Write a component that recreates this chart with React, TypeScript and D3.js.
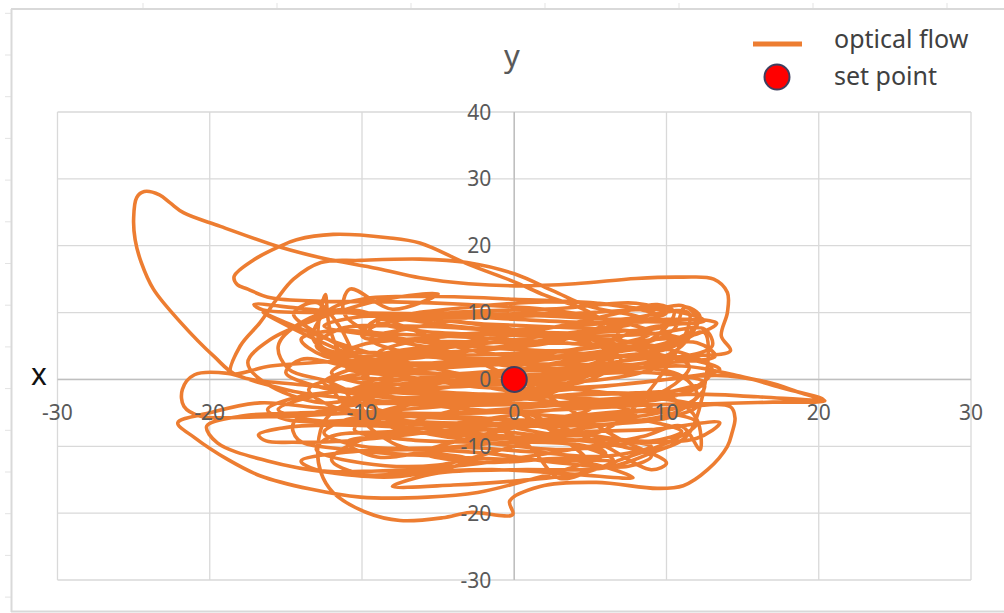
import React from "react";
import * as d3 from "d3";

type P = [number, number];

// axis ticks
const xTicks = [-30, -20, -10, 0, 10, 20, 30];
const yTicks = [-30, -20, -10, 0, 10, 20, 30, 40];

// set point
const setPoint: P = [0, 0];

// optical flow trajectory in segments (x, y)
const segTopSpike: P[] = [
  [0.5, -0.5], [4, 1.5], [8, 3], [11.5, 3.5], [14.2, 4.3], [13.6, 6.5], [14, 10], [14, 13], [13.1, 15],
  [11, 15.3], [8, 15.1], [4, 14.3], [0, 14], [-3, 14.3], [-6.2, 15.2], [-9, 16.6], [-12.7, 18.2],
  [-15.4, 19.8], [-19.3, 22.9], [-21.7, 24.9], [-22.6, 26.4], [-23.3, 27.6], [-24.3, 28.1], [-24.8, 27.2],
  [-25, 24], [-24.9, 20.9], [-24.5, 17.5], [-23.7, 13.5], [-21.9, 8.5], [-19.7, 3.4], [-18.2, 0.6],
  [-14, -0.8], [-9, -1.8], [-4, -2.4], [1, -2], [6, -1],
];
const segRightSpike: P[] = [
  [10, 0], [13.3, 0.6], [16.6, -0.4], [18.8, -2], [20.4, -3.2], [17, -3.4], [13.5, -3.6], [9, -3.8],
  [4, -4.4], [-2, -5], [-8, -5], [-13, -4.2], [-16.7, -3.5], [-20, -5], [-22.1, -6.5], [-21, -8.7],
  [-18.8, -12], [-16.7, -14.4], [-13.4, -16.4], [-10.1, -17.6], [-5.7, -17.6], [-2.4, -16.9], [1, -15],
  [4, -13], [6, -11],
];
const segBottom: P[] = [
  [3, -9.3], [-2, -8.2], [-7, -7.2], [-12, -6.8], [-15.3, -7.3], [-16.8, -8.3], [-16.3, -9.2],
  [-14.5, -9.4], [-11, -9.2], [-6, -8], [0, -6.5], [5, -5.2], [10, -4.4], [14.2, -4.1], [14.5, -5.8],
  [14.3, -8], [14, -10], [12.7, -13.5], [11.1, -15.9], [9.4, -16.3], [5.4, -15.4], [1.7, -16],
  [-0.3, -18.2], [-0.1, -20.2], [-2.9, -19.9], [-4.7, -20.7], [-7.5, -21.1], [-9.7, -19.9],
  [-11.9, -16.9], [-12.7, -13.9], [-12.9, -10], [-12.4, -6], [-10.5, -3], [-6, -1], [-1, 1], [4, 3],
];
const segBumps: P[] = [
  [8, 5], [10.5, 7.5], [11.2, 10.8], [12.2, 9.4], [11, 6], [7, 4.2], [2, 3.3], [-4, 3.2], [-9, 4],
  [-12.7, 5], [-12.4, 12.7], [-12.1, 7.5], [-11, 3], [-7, 1], [0, 0.5], [6, 1.2], [11, 2], [14.8, 0.5],
  [17.5, -1.2], [20.3, -3], [16, -2.6], [12, -2.2], [7, -2.8], [2, -3.6], [-4, -3.8], [-10, -3],
  [-14, -2], [-17, -0.3], [-18.8, 0.9], [-21, 0.7], [-21.8, -1.5], [-21.7, -4], [-20.6, -5.5],
  [-17, -5.6], [-13, -5.3], [-8, -4.6], [-3, -3.6],
];
const segUpperLeft: P[] = [
  [2, -1.5], [6, 2], [7, 6], [5, 10], [2, 12.6], [0, 14.6], [-3, 17.2], [-6.2, 20.4], [-8.3, 21.2],
  [-11.9, 21.7], [-14.3, 20.9], [-15.4, 19.9], [-17.1, 17.9], [-18.4, 15.4], [-18.2, 14.2],
  [-17.5, 13.5], [-16, 12.2], [-12.7, 11.7], [-8, 11.6], [-3, 11.2], [2, 10.5], [6, 9], [9, 7],
];
const segLeftArch: P[] = [
  [6, 5], [1, 4], [-5, 3.5], [-11, 2.8], [-16, 2], [-18.6, 1], [-18, 5], [-16.7, 8.5], [-15.6, 12],
  [-14.5, 15], [-12.7, 17.5], [-10.1, 17.8], [-6.2, 18], [-3.1, 17.5], [0, 15.8], [2.6, 13.2],
  [4.8, 11], [8, 9.5], [10, 8],
];
const segMidUpper: P[] = [
  [7, 7.2], [2, 7], [-4, 8], [-9, 9.5], [-14, 10.6], [-17.1, 11.2], [-16.5, 10.4], [-12, 10],
  [-6, 9.8], [0, 9], [5, 8.5], [9.5, 8.6], [12, 8],
];
const segCore1: P[] = [
  [10, 5.5], [6, 4], [0, 2.5], [-6, 1.5], [-11, 0.5], [-13.5, -1.5], [-12, -4], [-7, -5.5], [-1, -6],
  [5, -6], [9.5, -5], [12, -2.5], [11, 0.5], [7, 2], [1, 2.3], [-5, 2], [-10, 2.5], [-13, 5],
  [-11.5, 7.5], [-7, 8], [-1, 7.3], [4, 6.5], [9, 6.8], [12.5, 7.5], [13, 5], [10, 3], [4, 1.3],
  [-2, 0.2], [-8, -0.8], [-13, -2.4], [-15.5, -4.5], [-13.5, -6], [-8, -6.5], [-2, -7.5], [3, -8.8],
  [7, -10], [9, -11.5], [7.5, -13], [3, -12.5], [-2, -11], [-7, -10.5], [-11.5, -11], [-14, -12.2],
  [-13, -13.5], [-9, -13.7], [-4, -13], [1, -11.5], [5, -10], [8.5, -8.5], [11, -7],
];
const segCore2: P[] = [
  [12.2, -10.5], [12, -6], [10.5, -3], [6, -2], [0, -3], [-6, -3.5], [-11, -4], [-14.5, -6.5],
  [-14.2, -9], [-11, -10.5], [-5, -11.5], [0, -12], [4.5, -12.3], [7.8, -14.7], [4, -14.2],
  [-1, -13.5], [-6, -13.8], [-10, -14.2], [-12, -12], [-10, -9], [-5, -7], [1, -5], [6, -3.5],
  [10, -1.5], [11.5, 2], [9, 4], [3, 5.5], [-3, 6.3], [-8, 6.8], [-12, 7.3], [-14, 6], [-12.5, 3.5],
  [-8, 2.5], [-3, 2.6], [3, 3.5], [8, 4.5], [12, 5.5], [13.2, 3.5], [10, 2.5], [5, 2], [-1, 1],
  [-7, 0], [-12, -0.5],
];
const segLowerArc: P[] = [
  [-8, -9.5], [-3, -12], [-7.5, -14.5], [-11.9, -14], [-16.2, -12.2], [-19.5, -9.5], [-20.2, -7],
  [-18, -5.5], [-14, -5], [-9, -4.5], [-12, -0.5],
];
const segCore3: P[] = [
  [-14.8, 1.5], [-15.5, 5], [-14, 8.5], [-11, 10.5], [-7.3, 8], [-4, 5], [0, 3.5], [5, 4], [9, 6],
  [10.5, 10], [9.4, 11.2], [7, 10], [3, 8], [-2, 6], [-7, 4.5], [-11, 3.5], [-13.2, 6], [-12.4, 10],
  [-10, 12], [-5, 12.4], [0, 12], [5, 11.5], [9, 10.5], [11.1, 11], [12, 9], [11, 5], [8, 2], [3, 0],
  [-3, -1], [-9, -1.5], [-14, -2.5], [-16.2, -4.5], [-15, -6], [-10, -6], [-4, -5], [2, -4], [8, -3],
  [12.5, -1],
];
const segCore4: P[] = [
  [11, -4.5], [7, -6.5], [2, -7], [-3, -6.8], [-8, -7.8], [-12, -8.5], [-13, -10.5], [-10, -12.5],
  [-5, -12.8], [0, -10], [4, -8], [9, -7.5], [13.5, -6.5], [12, -8.8], [8, -9.5], [3, -10.5],
  [-2, -9.5], [-7, -9], [-10.5, -7.5], [-9, -5], [-4, -3], [2, -2.5], [8, -2], [12, -1], [13, 1.5],
  [11, 4], [6, 5.2], [0, 5.5], [-6, 5.8], [-10, 6.5], [-9, 9], [-4, 9.8], [2, 9.5], [7, 9], [11.5, 9.8],
];
const segDense1: P[] = [
  [6, -7.5], [-3, -6], [-9, -4.5], [-11, -2], [-6, 0.3], [2, 1.4], [8, 2.2], [10.5, 4], [7, 5.8],
  [0, 6.6], [-6, 7.2], [-9, 8.6], [-4, 10], [3, 10.6], [8, 11.4], [10, 10], [6, 7.8], [1, 6.2],
  [-5, 4.6], [-10, 3.2], [-12, 1], [-8, -1.3], [-2, -2.2], [5, -2.9], [9, -4], [6, -5.6], [0, -5],
  [-5, -4], [-9.5, -3], [-7, -1.2], [-1, 0.8], [4, 2.8], [9, 4.2], [11, 6], [8, 7.2], [3, 7.8],
  [-2, 8.3], [-7, 9], [-9.5, 7.5], [-6, 5.6], [0, 4.6], [6, 3.6], [10, 2.6], [8, 0.8], [3, -0.6],
  [-3, -0.9], [-9, -2.4], [-11.5, -4.5], [-8, -6], [-2, -6.6], [4, -6.2], [8, -5],
];
const segDense2: P[] = [
  [4, -3], [-1, -1.5], [-6, 1], [-9, 3.8], [-6, 6], [-1, 7], [4, 6], [7, 3], [5, 0], [0, -2.2],
  [-4, -4.6], [-7, -7], [-3, -9], [2, -8.2], [6, -6.8], [10, -5.8], [12, -4], [8, -2.5], [2, -1],
  [-3, 0.4], [-8, 1.6], [-12, 3], [-10, 5.2], [-5, 6.3], [1, 7.6], [6, 8.4], [9.5, 9.5], [7, 11],
  [2, 11.6], [-3, 10.8], [-7, 9.6], [-3, 8.4], [3, 6.5], [7, 5], [4, 3.7], [-1, 3], [-6, 2.3],
  [-10, 0.2], [-7, -1.8], [-1, -3.4], [5, -3.7], [10, -2.8], [12.5, -0.5], [9, 1], [4, 0.6],
  [-1, -0.3], [-6, -0.5],
];
const segDense3: P[] = [
  [-10, -4], [-8, -7.2], [-3, -8.4], [2, -9.2], [6, -9], [9, -10], [6, -11.5], [1, -10.8],
  [-4, -10.2], [-9, -11.6], [-11, -9.4], [-7, -8.2], [-1, -7.4], [4, -6.5], [8, -6], [11, -7.8],
  [9, -9.2], [4, -8], [-1, -6], [-6, -5.4], [-11, -6], [-12.5, -8], [-10, -10], [-5, -10.2],
  [0, -9.4], [4, -9.8], [6.5, -12], [3, -11.8], [-2, -12.4], [-6, -11], [-3, -8.8], [2, -6.2],
  [5, -4.4], [2, -3.2], [-3, -2.5], [-8, -2.6], [-10, -1],
];
const segDense4: P[] = [
  [-5, 1.8], [0, 3.2], [5, 5], [9, 7.8], [12.5, 8.8], [10, 10.4], [5, 10], [0, 9.4], [-5, 9.2],
  [-10, 9.4], [-12.5, 8], [-9, 6.5], [-3, 5], [3, 4.3], [8, 5.7], [12, 6.8], [13.3, 8.4], [10, 9],
  [5, 7], [0, 5.2], [-5, 3.6], [-10, 2], [-12.5, -0.5], [-9, -2], [-3, -0.8], [3, 1], [7, 3.4],
  [11.5, 3], [13.5, 1.5], [10, 0], [4, -1.2], [-2, -1.2], [-7, 0.4], [-11, 1.6], [-8, 3.5],
  [-2, 4.4], [3, 5.8], [6, 8.6], [3, 9.8], [-2, 9.5], [-6, 8], [-9.5, 6], [-7, 4], [-1, 2.2],
  [4, 0.4], [0, -0.4],
];
const segDiagUpperLeft: P[] = [
  [-6, 2], [-11, 5], [-15, 8.5], [-16.5, 10], [-14, 7], [-10, 3], [-7, 0.5], [-11, 4.5], [-14.5, 9.8],
  [-13, 11.5], [-11.5, 8], [-10.5, 3.5], [-9.5, -1], [-12, -3.5], [-16, -1], [-17.5, 2.5], [-16, 6],
  [-13, 9], [-8.5, 12], [-5, 12.8], [-8, 10.5], [-10.8, 13.5], [-11.2, 10], [-9, 6.5], [-4, 4],
];
const segDiagLowerRight: P[] = [
  [1, -1], [4, -5], [7, -9], [10, -12.5], [9, -13.5], [6, -10], [3, -7], [0, -4.5], [3, -8.5],
  [5, -13], [3, -14.8], [1, -10], [-1, -7], [4, -6], [9, -4.8], [12, -6.5], [10.5, -9], [7, -12],
  [4.5, -14], [0, -15.2], [-4, -15.8], [-8, -16], [-5, -14], [0, -13.5], [6, -13.2], [9, -11],
  [11.5, -8],
];
const segEnd: P[] = [
  [12.5, 7], [10, 4.5], [5, 3], [0, 1.5], [-5, 0.8], [-10, 1.5], [-14, 3], [-15, 1], [-13, -1],
  [-8, -2.8], [-2, -3], [3, -1.5], [1, 0],
];

const opticalFlow: P[] = [
  ...segTopSpike, ...segRightSpike, ...segBottom, ...segBumps, ...segUpperLeft, ...segLeftArch,
  ...segMidUpper, ...segCore1, ...segCore2, ...segLowerArc, ...segCore3, ...segCore4,
  ...segDense1, ...segDense2, ...segDense3, ...segDense4, ...segDiagUpperLeft,
  ...segDiagLowerRight, ...segEnd,
];

const W = 1004;
const H = 613;
const FONT = "'Noto Sans', 'Open Sans', sans-serif";
const ORANGE = "#ED7D31";

export default function App() {
  const x = d3.scaleLinear().domain([-30, 30]).range([57.5, 971]);
  const y = d3.scaleLinear().domain([-30, 40]).range([580, 112]);
  const line = d3
    .line<P>()
    .x((d) => x(d[0]))
    .y((d) => y(d[1]))
    .curve(d3.curveCatmullRom.alpha(0.5));

  const topMarks = [143, 277, 411, 545, 679, 813, 947];
  const leftMarks = d3.range(0, 15).map((i) => 13.3 + i * 41.7);

  return (
    <svg
      width={W}
      height={H}
      style={{ position: "absolute", left: 0, top: 0, background: "#fff" }}
      fontFamily={FONT}
    >
      <rect x={0} y={0} width={W} height={H} fill="#fff" />
      {/* sheet frame */}
      {topMarks.map((m) => (
        <line key={"t" + m} x1={m} x2={m} y1={3} y2={9} stroke="#e3e3e3" strokeWidth={1} />
      ))}
      {leftMarks.map((m, i) => (
        <line key={"l" + i} x1={5} x2={11} y1={m} y2={m} stroke="#e3e3e3" strokeWidth={1} />
      ))}
      <line x1={11} x2={W} y1={9} y2={9} stroke="#d9d9d9" strokeWidth={2} />
      <line x1={11.5} x2={11.5} y1={9} y2={612} stroke="#d9d9d9" strokeWidth={2} />
      <line x1={11} x2={W} y1={611.5} y2={611.5} stroke="#d9d9d9" strokeWidth={2} />

      {/* gridlines */}
      {xTicks.map((t) => (
        <line key={"gx" + t} x1={x(t)} x2={x(t)} y1={y(40)} y2={y(-30)} stroke="#d9d9d9" strokeWidth={1.3} />
      ))}
      {yTicks.map((t) => (
        <line key={"gy" + t} x1={x(-30)} x2={x(30)} y1={y(t)} y2={y(t)} stroke="#d9d9d9" strokeWidth={1.3} />
      ))}
      {/* axes through origin */}
      <line x1={x(-30)} x2={x(30)} y1={y(0)} y2={y(0)} stroke="#bfbfbf" strokeWidth={1.5} />
      <line x1={x(0)} x2={x(0)} y1={y(40)} y2={y(-30)} stroke="#bfbfbf" strokeWidth={1.5} />

      {/* series */}
      <path
        d={line(opticalFlow) || ""}
        fill="none"
        stroke={ORANGE}
        strokeWidth={3.6}
        strokeLinejoin="round"
        strokeLinecap="round"
      />
      <circle cx={x(setPoint[0])} cy={y(setPoint[1])} r={12.5} fill="#ff0000" stroke="#3f3f5f" strokeWidth={2} />

      {/* tick labels */}
      {xTicks.map((t) => (
        <text key={"lx" + t} x={x(t)} y={y(0) + 41} textAnchor="middle" fontSize={21} fill="#595959">
          {t}
        </text>
      ))}
      {yTicks.map((t) => (
        <text key={"ly" + t} x={x(0) - 23} y={y(t) + 7.5} textAnchor="end" fontSize={21} fill="#595959">
          {t}
        </text>
      ))}

      {/* axis titles */}
      <text x={39} y={385} textAnchor="middle" fontSize={30} fill="#111">
        x
      </text>
      <text x={512} y={67} textAnchor="middle" fontSize={31} fill="#595959">
        y
      </text>

      {/* legend */}
      <line x1={753} x2={802} y1={44} y2={44} stroke={ORANGE} strokeWidth={5} />
      <text x={834} y={48} fontSize={25} fill="#404040">
        optical flow
      </text>
      <circle cx={777} cy={77} r={12.5} fill="#ff0000" stroke="#3f3f5f" strokeWidth={2} />
      <text x={834} y={85} fontSize={25} fill="#404040">
        set point
      </text>
    </svg>
  );
}
